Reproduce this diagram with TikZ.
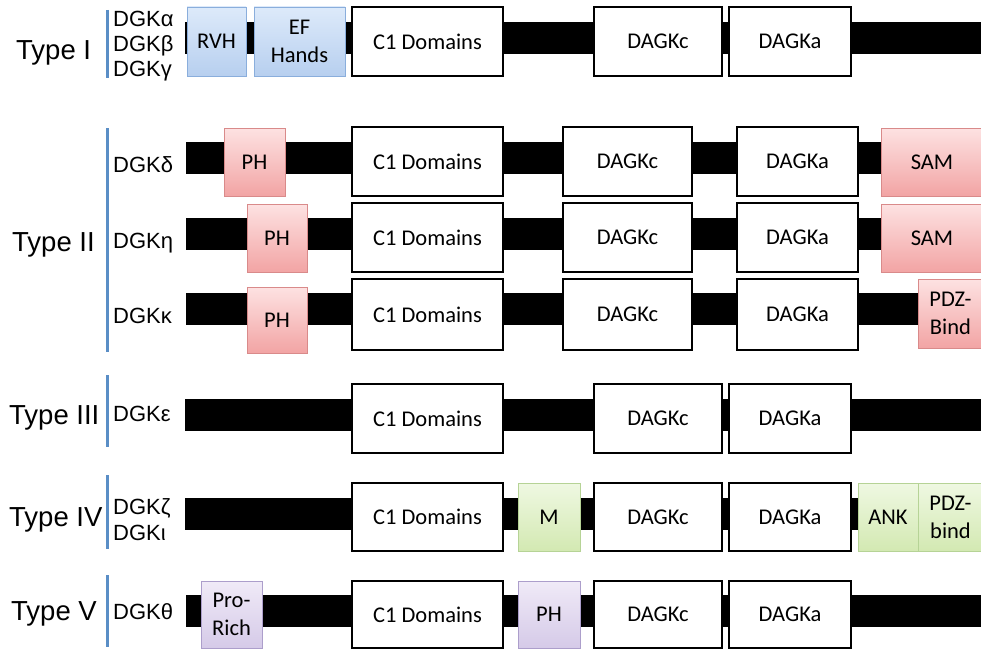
\documentclass[tikz,border=0pt]{standalone}
\usepackage{fontspec}
\setmainfont{Liberation Sans}
\newfontfamily\boxfont{Carlito}
\usetikzlibrary{shadows}

\definecolor{sepblue}{HTML}{5A8EC6}
\definecolor{bluetop}{HTML}{DDEAFA}
\definecolor{bluebot}{HTML}{B7CFEF}
\definecolor{blueedge}{HTML}{8AAEDC}
\definecolor{pinktop}{HTML}{FDE2E2}
\definecolor{pinkbot}{HTML}{F2A4A4}
\definecolor{pinkedge}{HTML}{D98A8A}
\definecolor{greentop}{HTML}{EFF8E2}
\definecolor{greenbot}{HTML}{D3E9B2}
\definecolor{greenedge}{HTML}{B6D396}
\definecolor{purptop}{HTML}{F0EAF7}
\definecolor{purpbot}{HTML}{D5CAE8}
\definecolor{purpedge}{HTML}{AC9ECB}

\tikzset{
  dom/.style={draw=black, line width=1.5pt, fill=white, inner sep=0pt,
    align=center, font=\boxfont\fontsize{22.5}{28}\selectfont,
    drop shadow={shadow xshift=1.2pt, shadow yshift=-1.2pt, fill=black!35, opacity=0.45}},
  coldom/.style={dom, line width=0.9pt},
  bluedom/.style={coldom, draw=blueedge, top color=bluetop, bottom color=bluebot},
  pinkdom/.style={coldom, draw=pinkedge, top color=pinktop, bottom color=pinkbot},
  greendom/.style={coldom, draw=greenedge, top color=greentop, bottom color=greenbot},
  purpdom/.style={coldom, draw=purpedge, top color=purptop, bottom color=purpbot},
  backbone/.style={line width=32pt, line cap=butt, black},
  sepline/.style={sepblue, line width=3pt},
  typelab/.style={anchor=base west, inner sep=0pt, font=\fontsize{27.5}{32}\selectfont},
  isolab/.style={anchor=base west, inner sep=0pt, font=\fontsize{22}{26}\selectfont},
}

% domain box given by its corners: style, name, x1, y1, x2, y2, text
\newcommand\dbox[7]{%
  \node[#1, minimum width={(#5)-(#3)}, minimum height={(#6)-(#4)}]
    (#2) at ({((#3)+(#5))/2},{((#4)+(#6))/2}) {#7};}

\begin{document}
\begin{tikzpicture}[x=1pt, y=-1pt]
\clip (0,0) rectangle (981,650);
\fill[white] (0,0) rectangle (981,650);

% ---------------- Type I ----------------
\node[typelab] (t1) at (16,60) {Type I};
\coordinate (s1a) at (107,10); \coordinate (s1b) at (107,78);
\draw[sepline] (s1a) -- (s1b);
\node[isolab] (kalpha) at (113,27) {DGKα};
\node[isolab] (kbeta)  at (113,52) {DGKβ};
\node[isolab] (kgamma) at (113,77) {DGKγ};
\coordinate (a0) at (185,38); \coordinate (a1) at (990,38);
\draw[backbone] (a0) -- (a1);
\dbox{bluedom}{aRVH}{187}{7}{246}{76}{RVH}
\dbox{bluedom}{aEF}{254}{7}{345}{76}{EF\\Hands}
\dbox{dom}{aC1}{352}{7}{503}{76}{C1 Domains}
\dbox{dom}{aDc}{594}{7}{722}{76}{DAGKc}
\dbox{dom}{aDa}{729}{7}{851}{76}{DAGKa}

% ---------------- Type II ----------------
\node[typelab] (t2) at (12,251) {Type II};
\coordinate (s2a) at (107,128); \coordinate (s2b) at (107,352);
\draw[sepline] (s2a) -- (s2b);
\node[isolab] (kdelta) at (113,172) {DGKδ};
\node[isolab] (keta)   at (113,248) {DGKη};
\node[isolab] (kkappa) at (113,323) {DGKκ};

% delta
\coordinate (b0) at (186,158); \coordinate (b1) at (990,158);
\draw[backbone] (b0) -- (b1);
\dbox{pinkdom}{bPH}{224}{128}{285}{196}{PH}
\dbox{dom}{bC1}{352}{127}{503}{196}{C1 Domains}
\dbox{dom}{bDc}{563}{127}{692}{196}{DAGKc}
\dbox{dom}{bDa}{737}{127}{858}{196}{DAGKa}
\dbox{pinkdom}{bSAM}{881}{128}{983}{196}{SAM}

% eta
\coordinate (c0) at (186,234); \coordinate (c1) at (990,234);
\draw[backbone] (c0) -- (c1);
\dbox{pinkdom}{cPH}{247}{204}{307}{272}{PH}
\dbox{dom}{cC1}{352}{203}{503}{272}{C1 Domains}
\dbox{dom}{cDc}{563}{203}{692}{272}{DAGKc}
\dbox{dom}{cDa}{737}{203}{858}{272}{DAGKa}
\dbox{pinkdom}{cSAM}{881}{204}{983}{272}{SAM}

% kappa
\coordinate (d0) at (186,309); \coordinate (d1) at (990,309);
\draw[backbone] (d0) -- (d1);
\dbox{pinkdom}{dPH}{247}{287}{307}{353}{PH}
\dbox{dom}{dC1}{352}{279}{503}{350}{C1 Domains}
\dbox{dom}{dDc}{563}{279}{692}{350}{DAGKc}
\dbox{dom}{dDa}{737}{279}{858}{350}{DAGKa}
\dbox{pinkdom}{dPDZ}{918}{279}{983}{348}{PDZ-\\Bind}

% ---------------- Type III ----------------
\node[typelab] (t3) at (9,424) {Type III};
\coordinate (s3a) at (107,375); \coordinate (s3b) at (107,447);
\draw[sepline] (s3a) -- (s3b);
\node[isolab] (kepsilon) at (113,421) {DGKε};
\coordinate (e0) at (185,415); \coordinate (e1) at (990,415);
\draw[backbone] (e0) -- (e1);
\dbox{dom}{eC1}{352}{384}{503}{453}{C1 Domains}
\dbox{dom}{eDc}{594}{384}{722}{453}{DAGKc}
\dbox{dom}{eDa}{729}{384}{851}{453}{DAGKa}

% ---------------- Type IV ----------------
\node[typelab] (t4) at (9,526) {Type IV};
\coordinate (s4a) at (107,475); \coordinate (s4b) at (107,549);
\draw[sepline] (s4a) -- (s4b);
\node[isolab] (kzeta) at (113,514) {DGKζ};
\node[isolab] (kiota) at (113,540) {DGKι};
\coordinate (f0) at (185,514); \coordinate (f1) at (990,514);
\draw[backbone] (f0) -- (f1);
\dbox{dom}{fC1}{352}{483}{503}{551}{C1 Domains}
\dbox{greendom}{fM}{518}{483}{580}{551}{M}
\dbox{dom}{fDc}{594}{483}{722}{551}{DAGKc}
\dbox{dom}{fDa}{729}{483}{851}{551}{DAGKa}
\dbox{greendom}{fANK}{858}{483}{918}{551}{ANK}
\dbox{greendom}{fPDZ}{918}{483}{983}{551}{PDZ-\\bind}

% ---------------- Type V ----------------
\node[typelab] (t5) at (11,620) {Type V};
\coordinate (s5a) at (107,575); \coordinate (s5b) at (107,647);
\draw[sepline] (s5a) -- (s5b);
\node[isolab] (ktheta) at (113,619) {DGKθ};
\coordinate (g0) at (186,611); \coordinate (g1) at (990,611);
\draw[backbone] (g0) -- (g1);
\dbox{purpdom}{gPro}{201}{581}{262}{648}{Pro-\\Rich}
\dbox{dom}{gC1}{352}{581}{503}{648}{C1 Domains}
\dbox{purpdom}{gPH}{518}{581}{580}{648}{PH}
\dbox{dom}{gDc}{594}{581}{722}{648}{DAGKc}
\dbox{dom}{gDa}{729}{581}{851}{648}{DAGKa}
\end{tikzpicture}
\end{document}
